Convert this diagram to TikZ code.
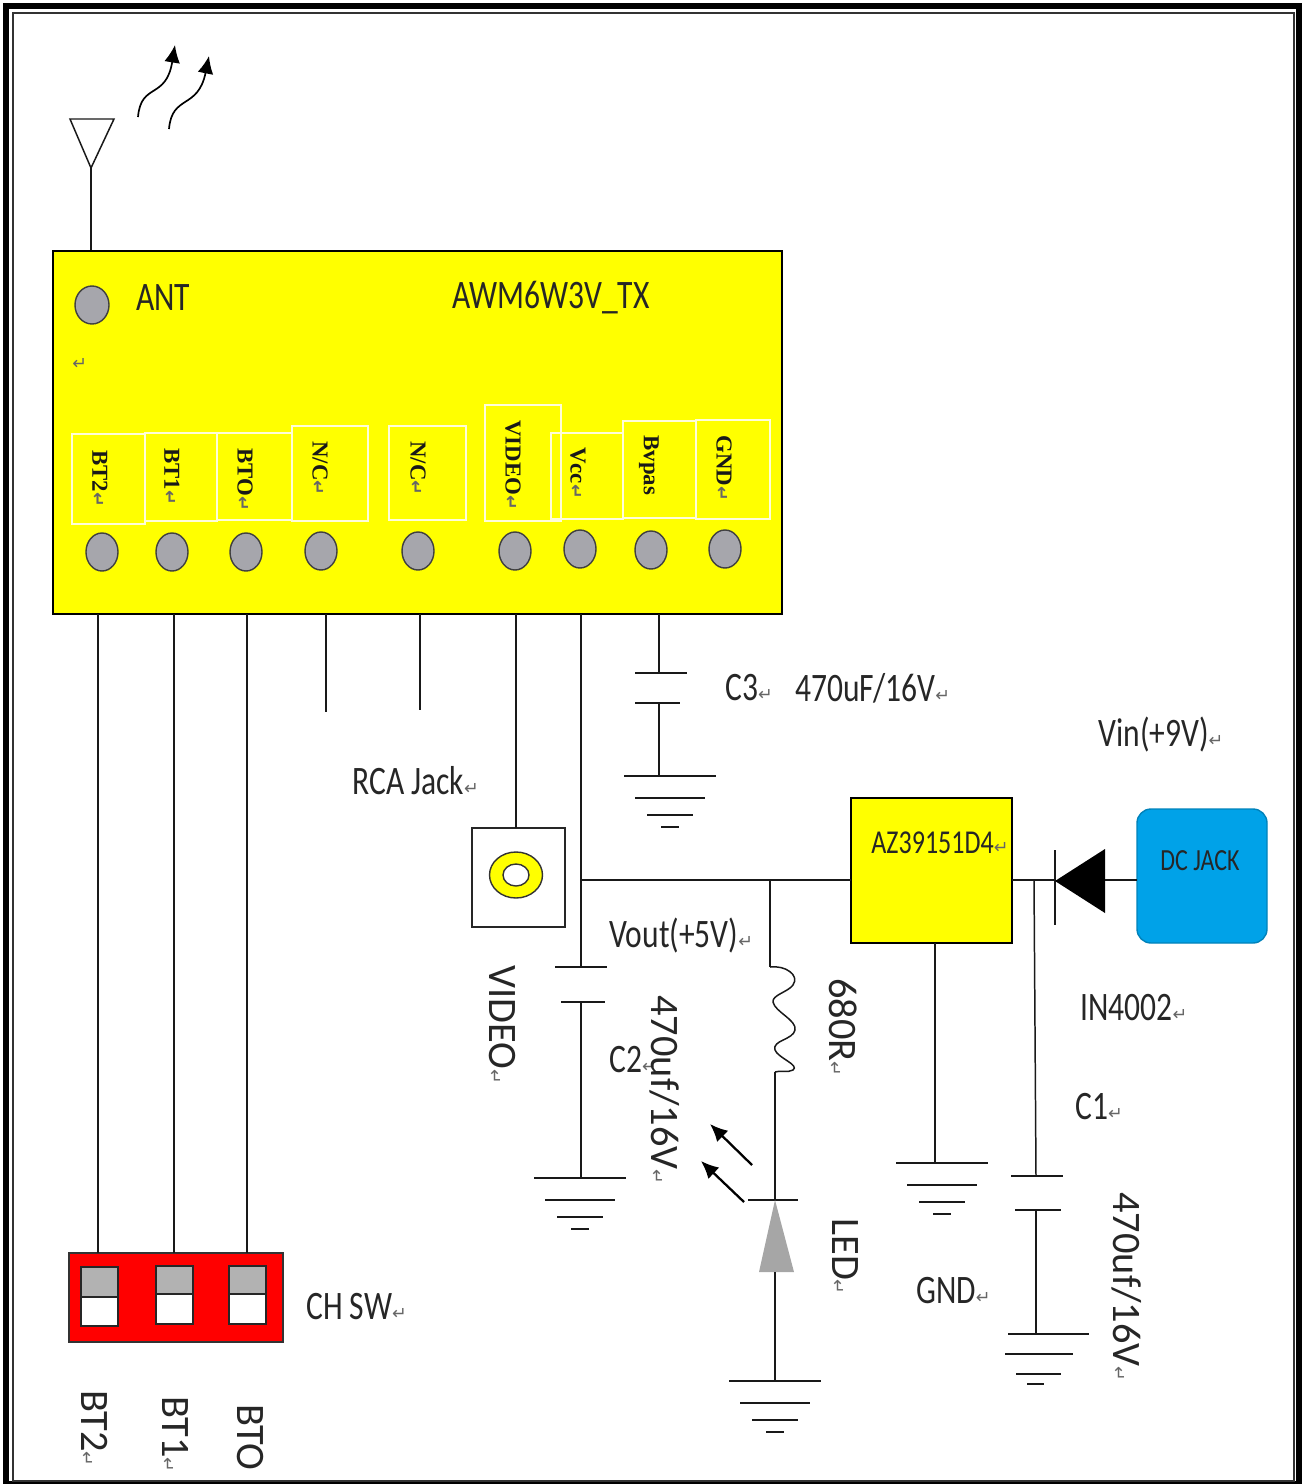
\documentclass[tikz,border=0pt]{standalone}
\usepackage{fontspec}
\setmainfont{Carlito}[FakeStretch=0.78]
\newfontfamily\downfont{Carlito}
\newfontfamily\pinfont{Liberation Serif}
\newfontfamily\markfont{DejaVu Sans}
\usetikzlibrary{positioning}
\usetikzlibrary{shapes.geometric}
\usetikzlibrary{arrows.meta}
\newcommand{\px}{0.02cm}
\newcommand{\parmark}{{\markfont\fontsize{10}{10}\selectfont\textcolor{black!60}{↵}}}
\definecolor{chip_yellow}{RGB}{255,255,0}
\definecolor{sw_red}{RGB}{255,0,0}
\definecolor{jack_blue}{RGB}{0,162,232}
\definecolor{pin_gray}{RGB}{166,166,172}
\tikzset{
  wire/.style={line width=0.85pt, color=black!90},
  frame_outer/.style={line width=3.4pt, color=black},
  frame_inner/.style={line width=1pt, color=black!80},
  arrow_wave/.style={-{Latex[length=10pt, width=9pt]}, line width=0.95pt, color=black},
  arrow_light/.style={-{Latex[length=10pt, width=9pt]}, line width=1.3pt, color=black},
  chip_box/.style={rectangle, draw=black, fill=chip_yellow, line width=0.85pt, inner sep=0},
  label_box/.style={rectangle, draw=white!85!yellow, line width=0.8pt, inner sep=0},
  white_box/.style={rectangle, draw=black!85, fill=white, line width=0.85pt, inner sep=0},
  pin_point/.style={ellipse, draw=black!75, fill=pin_gray, line width=0.8pt, minimum width=32*\px, minimum height=38*\px, inner sep=0},
  pin_text/.style={font=\pinfont\bfseries\fontsize{13}{13}\selectfont, rotate=-90, anchor=west, inner sep=0, color=black!90},
  big_text/.style={font=\fontsize{23}{23}\selectfont, anchor=west, inner sep=0, color=black!85},
  down_text/.style={font=\downfont\fontsize{23}{23}\selectfont, rotate=-90, anchor=west, inner sep=0, color=black!85},
  sw_top/.style={rectangle, draw=black!85, fill=black!30, line width=0.8pt, minimum width=37*\px, inner sep=0},
  sw_bottom/.style={rectangle, draw=black!85, fill=white, line width=0.8pt, minimum width=37*\px, inner sep=0},
  ground_symbol/.pic={
    \draw[wire] (-46,0) -- (46,0);
    \draw[wire] (-35,22) -- (35,22);
    \draw[wire] (-23,39) -- (23,39);
    \draw[wire] (-9,51) -- (9,51);
  }
}
\begin{document}
\begin{tikzpicture}[x=\px, y=-\px]
\useasboundingbox (0,0) rectangle (1303,1484);

%%% page frame
\draw[frame_outer] (6,6) rectangle (1299,1484);
\draw[frame_inner] (13,13) rectangle (1294,1481);

%%% antenna and waves
\coordinate (ant_tip) at (91,168);
\coordinate (ant_base) at (91,250);
\draw[wire] (70,119) -- (114,119) -- (ant_tip) -- cycle;
\draw[wire] (ant_tip) -- (ant_base);
\draw[arrow_wave] (138,117) .. controls (141,82) and (166,100) .. (175,45);
\draw[arrow_wave] (169,129) .. controls (172,94) and (198,110) .. (209,56);

%%% module
\node[chip_box, minimum width=729*\px, minimum height=363*\px] at (417.5,432.5) (chip){};
\node[pin_point, minimum width=34*\px] at (92,305) (ant_pin){};
\node[big_text] at (136,298) (ant_text){ANT};
\node[big_text] at (452,298) (chip_text){AWM6W3V\_TX};
\node[anchor=west, inner sep=0] at (72,364) (chip_mark){\parmark};

% label boxes
\node[label_box, minimum width=73*\px, minimum height=90*\px] at (108.5,479) (box_bt2){};
\node[label_box, minimum width=72*\px, minimum height=88*\px] at (181,477) (box_bt1){};
\node[label_box, minimum width=75*\px, minimum height=87*\px] at (254.5,476.5) (box_bt0){};
\node[label_box, minimum width=76*\px, minimum height=95*\px] at (330,473.5) (box_nc1){};
\node[label_box, minimum width=77*\px, minimum height=94*\px] at (427.5,473) (box_nc2){};
\node[label_box, minimum width=76*\px, minimum height=116*\px] at (523,463) (box_video){};
\node[label_box, minimum width=72*\px, minimum height=86*\px] at (587,476) (box_vcc){};
\node[label_box, minimum width=73*\px, minimum height=97*\px] at (659.5,469.5) (box_bvpas){};
\node[label_box, minimum width=74*\px, minimum height=99*\px] at (733,469.5) (box_gnd){};

% bottom pins
\node[pin_point] at (102,552) (pin_bt2){};
\node[pin_point] at (172,552) (pin_bt1){};
\node[pin_point] at (246,552) (pin_bt0){};
\node[pin_point] at (321,551) (pin_nc1){};
\node[pin_point] at (418,551) (pin_nc2){};
\node[pin_point] at (515,551) (pin_video){};
\node[pin_point] at (580,549) (pin_vcc){};
\node[pin_point] at (651,550) (pin_bvpas){};
\node[pin_point] at (725,549) (pin_gnd){};

% pin names
\node[pin_text] at (100,450) (text_bt2){BT2\parmark};
\node[pin_text] at (172,448) (text_bt1){BT1\parmark};
\node[pin_text] at (245,448) (text_bt0){BTO\parmark};
\node[pin_text] at (320,441) (text_nc1){N/C\parmark};
\node[pin_text] at (418,441) (text_nc2){N/C\parmark};
\node[pin_text] at (513,420) (text_video){VIDEO\parmark};
\node[pin_text] at (578,447) (text_vcc){Vcc\parmark};
\node[pin_text] at (649,435) (text_bvpas){Bvpas};
\node[pin_text] at (724,435) (text_gnd){GND\parmark};

%%% channel switch
\node[rectangle, draw=black!80, fill=sw_red, line width=0.85pt, inner sep=0, minimum width=214*\px, minimum height=89*\px] at (176,1297.5) (sw_body){};
\node[sw_top, minimum height=30*\px] at (99.5,1282) (sw2_top){};
\node[sw_bottom, minimum height=29*\px] at (99.5,1311.5) (sw2_bottom){};
\node[sw_top, minimum height=28*\px] at (174.5,1280) (sw1_top){};
\node[sw_bottom, minimum height=30*\px] at (174.5,1309) (sw1_bottom){};
\node[sw_top, minimum height=28*\px] at (247.5,1280) (sw0_top){};
\node[sw_bottom, minimum height=30*\px] at (247.5,1309) (sw0_bottom){};
\node[big_text] at (306,1307) (sw_text){CH SW\parmark};
\node[down_text] at (95,1390) (down_bt2){BT2\parmark};
\node[down_text] at (176,1396) (down_bt1){BT1\parmark};
\node[down_text] at (250,1404) (down_bt0){BTO};

%%% wires from module
\coordinate (bt2_top) at (98,614);
\coordinate (bt2_bot) at (98,1253);
\coordinate (bt1_top) at (174,614);
\coordinate (bt1_bot) at (174,1253);
\coordinate (bt0_top) at (247,614);
\coordinate (bt0_bot) at (247,1253);
\coordinate (nc1_top) at (326,614);
\coordinate (nc1_bot) at (326,712);
\coordinate (nc2_top) at (420,614);
\coordinate (nc2_bot) at (420,710);
\draw[wire] (bt2_top) -- (bt2_bot);
\draw[wire] (bt1_top) -- (bt1_bot);
\draw[wire] (bt0_top) -- (bt0_bot);
\draw[wire] (nc1_top) -- (nc1_bot);
\draw[wire] (nc2_top) -- (nc2_bot);

%%% C3
\coordinate (c3_top) at (659,614);
\coordinate (c3_a) at (659,673);
\coordinate (c3_b) at (659,703);
\coordinate (c3_gnd) at (659,776);
\draw[wire] (c3_top) -- (c3_a);
\draw[wire] (635,673) -- (687,673);
\draw[wire] (635,703) -- (680,703);
\draw[wire] (c3_b) -- (c3_gnd);
\pic at (670,776) {ground_symbol};
\node[big_text] at (725,688) (c3_text){C3\parmark};
\node[big_text] at (795,688) (c3_value){470uF/16V\parmark};

%%% RCA jack
\node[big_text] at (352,781) (rca_text){RCA Jack\parmark};
\node[white_box, minimum width=93*\px, minimum height=99*\px] at (518.5,877.5) (rca_box){};
\node[ellipse, draw=black!80, fill=chip_yellow, line width=0.8pt, minimum width=53*\px, minimum height=46*\px, inner sep=0] at (516,875) (rca_ring){};
\node[ellipse, draw=black!80, fill=white, line width=0.8pt, minimum width=26*\px, minimum height=22*\px, inner sep=0] at (516,875) (rca_hole){};
\coordinate (video_top) at (516,614);
\coordinate (video_bot) at (516,828);
\draw[wire] (video_top) -- (video_bot);
\node[down_text] at (502,965) (video_text){VIDEO\parmark};

%%% C2 and Vcc
\coordinate (vcc_top) at (581,614);
\coordinate (vcc_node) at (581,880);
\coordinate (c2_a) at (581,967);
\coordinate (c2_b) at (581,1002);
\coordinate (c2_gnd) at (581,1178);
\draw[wire] (vcc_top) -- (c2_a);
\draw[wire] (555,967) -- (607,967);
\draw[wire] (561,1002) -- (605,1002);
\draw[wire] (c2_b) -- (c2_gnd);
\pic at (580,1178) {ground_symbol};
\node[big_text] at (609,936) (vout_text){Vout(+5V)\parmark};
\node[big_text] at (609,1060) (c2_text){C2\parmark};
\node[down_text] at (665,995) (c2_value){470uf/16V\parmark};

%%% regulator
\node[chip_box, minimum width=161*\px, minimum height=145*\px] at (931.5,870.5) (reg_box){};
\node[big_text, font=\fontsize{19}{19}\selectfont] at (871,843) (reg_text){AZ39151D4\parmark};
\coordinate (reg_in) at (1012,880);
\coordinate (reg_out) at (851,880);
\coordinate (reg_gnd_top) at (935,943);
\coordinate (reg_gnd_bot) at (935,1163);
\draw[wire] (vcc_node) -- (reg_out);
\draw[wire] (reg_gnd_top) -- (reg_gnd_bot);
\pic at (942,1163) {ground_symbol};
\node[big_text] at (916,1291) (gnd_text){GND\parmark};

%%% resistor and LED
\coordinate (res_node) at (770,880);
\coordinate (res_top) at (770,967);
\coordinate (res_bot) at (775,1072);
\coordinate (led_top) at (775,1200);
\coordinate (led_bot) at (775,1272);
\coordinate (led_gnd) at (775,1381);
\draw[wire] (res_node) -- (res_top);
\draw[wire] (res_top) .. controls (785,965) and (800,975) .. (793,985)
  .. controls (788,992) and (772,995) .. (773,1002)
  .. controls (775,1012) and (797,1020) .. (795,1030)
  .. controls (793,1040) and (772,1040) .. (775,1050)
  .. controls (778,1058) and (800,1065) .. (793,1070)
  .. controls (788,1073) and (780,1070) .. (res_bot);
\draw[wire] (res_bot) -- (led_top);
\draw[wire] (748,1200) -- (798,1200);
\fill[black!35] (led_top) -- (794,1272) -- (759,1272) -- cycle;
\draw[wire] (led_bot) -- (led_gnd);
\pic at (775,1381) {ground_symbol};
\draw[arrow_light] (752,1165) -- (710,1124);
\draw[arrow_light] (744,1202) -- (701,1161);
\node[down_text] at (843,978) (res_text){680R\parmark};
\node[down_text] at (845,1218) (led_text){LED\parmark};

%%% diode and DC jack
\node[rectangle, draw=jack_blue!80!black, fill=jack_blue, line width=0.8pt, rounded corners=14*\px, inner sep=0, minimum width=130*\px, minimum height=134*\px] at (1202,876) (dc_jack){};
\node[big_text, font=\fontsize{17.5}{17.5}\selectfont] at (1160,861) (dc_text){DC JACK};
\coordinate (diode_bar) at (1055,880);
\coordinate (diode_base) at (1105,880);
\coordinate (dc_in) at (1137,880);
\draw[wire] (reg_in) -- (diode_bar);
\draw[wire] (1055,850) -- (1055,925);
\fill[black] (1055,881) -- (1105,849) -- (1105,913) -- cycle;
\draw[wire] (diode_base) -- (dc_in);
\node[big_text] at (1098,735) (vin_text){Vin(+9V)\parmark};
\node[big_text] at (1080,1008) (diode_text){IN4002\parmark};

%%% C1
\coordinate (c1_node) at (1034,880);
\coordinate (c1_a) at (1036,1176);
\coordinate (c1_b) at (1036,1210);
\coordinate (c1_gnd) at (1036,1334);
\draw[wire] (c1_node) -- (c1_a);
\draw[wire] (1011,1176) -- (1063,1176);
\draw[wire] (1015,1210) -- (1061,1210);
\draw[wire] (c1_b) -- (c1_gnd);
\draw[wire] (1008,1334) -- (1089,1334);
\draw[wire] (1005,1354) -- (1073,1354);
\draw[wire] (1016,1374) -- (1061,1374);
\draw[wire] (1027,1384) -- (1044,1384);
\node[big_text] at (1075,1107) (c1_text){C1\parmark};
\node[down_text] at (1127,1192) (c1_value){470uf/16V\parmark};

\end{tikzpicture}
\end{document}
